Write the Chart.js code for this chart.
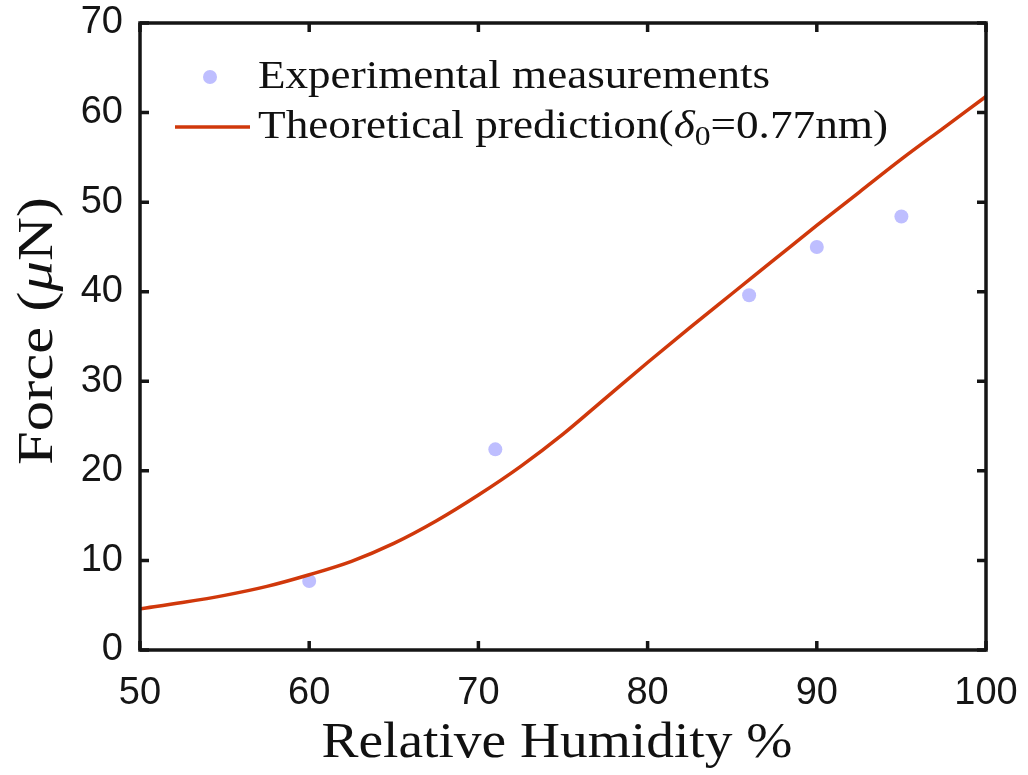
<!DOCTYPE html>
<html>
<head>
<meta charset="utf-8">
<script src="https://cdn.jsdelivr.net/npm/chart.js@4"></script>
<style>
  body { margin: 0; background: #fff; }
  canvas { display: block; }
</style>
</head>
<body>
<canvas id="myChart" width="1028" height="775"></canvas>
<script>
// measured points
let humidityMeas = [60, 71, 86, 90, 95];
let forceMeas = [7.7, 22.4, 39.6, 45.0, 48.4];

// theoretical curve
let humidityCurve = [50, 52.5, 55, 57.5, 60, 62.5, 65, 67.5, 70, 72.5, 75, 77.5, 80, 82.5, 85, 87.5, 90, 92.5, 95, 97.5, 100];
let forceCurve = [4.6, 5.3, 6.1, 7.1, 8.4, 9.9, 11.9, 14.4, 17.3, 20.5, 24.1, 28.1, 32.1, 36.0, 39.8, 43.6, 47.4, 51.1, 54.8, 58.3, 61.8];

let xTicks = [50, 60, 70, 80, 90, 100];
let yTicks = [0, 10, 20, 30, 40, 50, 60, 70];

const pointColor = "rgb(190,190,255)";
const lineColor = "#d0380b";
const axisColor = "#151515";
const serif = "'Liberation Serif', 'Times New Roman', serif";

// draws text pieces stretched to a given width (the original uses a wide TeX font)
function fitText(ctx, parts, x, y, width, align) {
    let natural = 0;
    parts.forEach(p => { ctx.font = p.font; natural += ctx.measureText(p.t).width; });
    let s = width / natural;
    let x0 = align === "center" ? x - width / 2 : x;
    ctx.save();
    ctx.translate(x0, y);
    ctx.scale(s, 1);
    ctx.textAlign = "left";
    ctx.textBaseline = "alphabetic";
    ctx.fillStyle = "#111";
    let cx = 0;
    parts.forEach(p => {
        ctx.font = p.font;
        ctx.fillText(p.t, cx, p.dy || 0);
        cx += ctx.measureText(p.t).width;
    });
    ctx.restore();
}

const boxPlugin = {
    id: "boxPlugin",
    afterDraw(chart) {
        let ctx = chart.ctx;
        let a = chart.chartArea;
        let xs = chart.scales.x, ys = chart.scales.y;
        ctx.save();
        ctx.strokeStyle = axisColor;
        ctx.lineWidth = 3.5;
        ctx.strokeRect(a.left, a.top, a.right - a.left, a.bottom - a.top);
        let tl = 9;
        ctx.beginPath();
        xTicks.forEach(v => {
            let px = xs.getPixelForValue(v);
            ctx.moveTo(px, a.bottom); ctx.lineTo(px, a.bottom - tl);
            ctx.moveTo(px, a.top); ctx.lineTo(px, a.top + tl);
        });
        yTicks.forEach(v => {
            let py = ys.getPixelForValue(v);
            ctx.moveTo(a.left, py); ctx.lineTo(a.left + tl, py);
            ctx.moveTo(a.right, py); ctx.lineTo(a.right - tl, py);
        });
        ctx.stroke();
        ctx.restore();

        // axis titles
        fitText(ctx, [{ t: "Relative Humidity %", font: "50px " + serif }], 557, 757, 471, "center");
        ctx.save();
        ctx.translate(52, 331);
        ctx.rotate(-Math.PI / 2);
        fitText(ctx, [
            { t: "Force (", font: "50px " + serif },
            { t: "\u03bc", font: "italic 50px " + serif },
            { t: "N)", font: "50px " + serif }
        ], 0, 0, 268, "center");
        ctx.restore();

        // legend
        ctx.save();
        ctx.fillStyle = pointColor;
        ctx.beginPath();
        ctx.arc(210, 77, 7, 0, Math.PI * 2);
        ctx.fill();
        ctx.strokeStyle = lineColor;
        ctx.lineWidth = 3.5;
        ctx.beginPath();
        ctx.moveTo(175, 127);
        ctx.lineTo(250, 127);
        ctx.stroke();
        ctx.restore();
        fitText(ctx, [{ t: "Experimental measurements", font: "40px " + serif }], 258, 88, 512, "left");
        fitText(ctx, [
            { t: "Theoretical prediction(", font: "40px " + serif },
            { t: "\u03b4", font: "italic 40px " + serif },
            { t: "0", font: "28px " + serif, dy: 7 },
            { t: "=0.77nm)", font: "40px " + serif }
        ], 258, 138, 630, "left");
    }
};

let chart = new Chart(document.getElementById("myChart"), {
    type: "scatter",
    data: {
        datasets: [
            {
                label: "Experimental measurements",
                data: humidityMeas.map((h, i) => ({ x: h, y: forceMeas[i] })),
                backgroundColor: pointColor,
                borderWidth: 0,
                pointRadius: 7,
                order: 2
            },
            {
                type: "line",
                label: "Theoretical prediction",
                data: humidityCurve.map((h, i) => ({ x: h, y: forceCurve[i] })),
                borderColor: lineColor,
                borderWidth: 3.5,
                pointRadius: 0,
                fill: false,
                cubicInterpolationMode: "monotone",
                order: 1
            }
        ]
    },
    options: {
        responsive: false,
        animation: false,
        devicePixelRatio: 1,
        layout: { padding: { top: 23, right: 42, left: 0, bottom: 0 } },
        plugins: { legend: { display: false }, tooltip: { enabled: false } },
        scales: {
            x: {
                type: "linear",
                min: 50, max: 100,
                afterBuildTicks: s => { s.ticks = xTicks.map(v => ({ value: v })); },
                afterFit: s => { s.height = 125; s.paddingLeft = 0; s.paddingRight = 0; },
                grid: { display: false, drawTicks: false },
                border: { display: false },
                ticks: { color: "#151515", padding: 21, font: { family: "'Liberation Sans', Arial, sans-serif", size: 38 } }
            },
            y: {
                type: "linear",
                min: 0, max: 70,
                afterBuildTicks: s => { s.ticks = yTicks.map(v => ({ value: v })); },
                afterFit: s => { s.width = 140; s.paddingTop = 0; s.paddingBottom = 0; },
                grid: { display: false, drawTicks: false },
                border: { display: false },
                ticks: { color: "#151515", padding: 17, font: { family: "'Liberation Sans', Arial, sans-serif", size: 38 } }
            }
        }
    },
    plugins: [boxPlugin]
});
</script>
</body>
</html>
